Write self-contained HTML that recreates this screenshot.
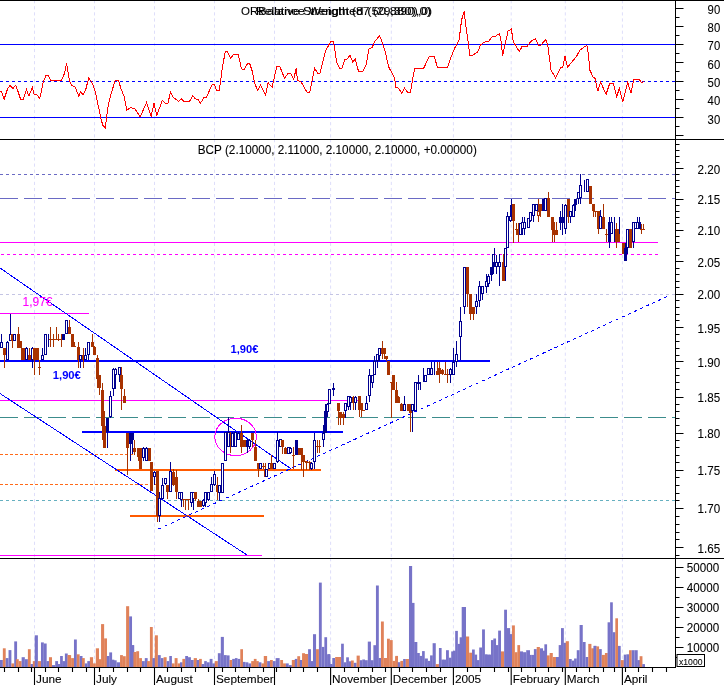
<!DOCTYPE html>
<html><head><meta charset="utf-8"><style>
html,body{margin:0;padding:0;background:#fff;}
svg{display:block;will-change:transform;}
</style></head><body>
<svg width="724" height="685" viewBox="0 0 724 685">
<rect width="724" height="685" fill="#fff"/>
<line x1="34.5" y1="1" x2="34.5" y2="139" stroke="#dedefa" stroke-width="1" stroke-dasharray="3.2,2.9" stroke-dashoffset="0.9"/>
<line x1="34.5" y1="140" x2="34.5" y2="558" stroke="#dedefa" stroke-width="1" stroke-dasharray="3.2,2.9" stroke-dashoffset="0.9"/>
<line x1="34.5" y1="559" x2="34.5" y2="667" stroke="#dedefa" stroke-width="1" stroke-dasharray="3.2,2.9" stroke-dashoffset="0.9"/>
<line x1="94.5" y1="1" x2="94.5" y2="139" stroke="#dedefa" stroke-width="1" stroke-dasharray="3.2,2.9" stroke-dashoffset="0.9"/>
<line x1="94.5" y1="140" x2="94.5" y2="558" stroke="#dedefa" stroke-width="1" stroke-dasharray="3.2,2.9" stroke-dashoffset="0.9"/>
<line x1="94.5" y1="559" x2="94.5" y2="667" stroke="#dedefa" stroke-width="1" stroke-dasharray="3.2,2.9" stroke-dashoffset="0.9"/>
<line x1="154.5" y1="1" x2="154.5" y2="139" stroke="#dedefa" stroke-width="1" stroke-dasharray="3.2,2.9" stroke-dashoffset="0.9"/>
<line x1="154.5" y1="140" x2="154.5" y2="558" stroke="#dedefa" stroke-width="1" stroke-dasharray="3.2,2.9" stroke-dashoffset="0.9"/>
<line x1="154.5" y1="559" x2="154.5" y2="667" stroke="#dedefa" stroke-width="1" stroke-dasharray="3.2,2.9" stroke-dashoffset="0.9"/>
<line x1="214.5" y1="1" x2="214.5" y2="139" stroke="#dedefa" stroke-width="1" stroke-dasharray="3.2,2.9" stroke-dashoffset="0.9"/>
<line x1="214.5" y1="140" x2="214.5" y2="558" stroke="#dedefa" stroke-width="1" stroke-dasharray="3.2,2.9" stroke-dashoffset="0.9"/>
<line x1="214.5" y1="559" x2="214.5" y2="667" stroke="#dedefa" stroke-width="1" stroke-dasharray="3.2,2.9" stroke-dashoffset="0.9"/>
<line x1="274.5" y1="1" x2="274.5" y2="139" stroke="#dedefa" stroke-width="1" stroke-dasharray="3.2,2.9" stroke-dashoffset="0.9"/>
<line x1="274.5" y1="140" x2="274.5" y2="558" stroke="#dedefa" stroke-width="1" stroke-dasharray="3.2,2.9" stroke-dashoffset="0.9"/>
<line x1="274.5" y1="559" x2="274.5" y2="667" stroke="#dedefa" stroke-width="1" stroke-dasharray="3.2,2.9" stroke-dashoffset="0.9"/>
<line x1="330.6" y1="1" x2="330.6" y2="139" stroke="#dedefa" stroke-width="1" stroke-dasharray="3.2,2.9" stroke-dashoffset="0.9"/>
<line x1="330.6" y1="140" x2="330.6" y2="558" stroke="#dedefa" stroke-width="1" stroke-dasharray="3.2,2.9" stroke-dashoffset="0.9"/>
<line x1="330.6" y1="559" x2="330.6" y2="667" stroke="#dedefa" stroke-width="1" stroke-dasharray="3.2,2.9" stroke-dashoffset="0.9"/>
<line x1="391.3" y1="1" x2="391.3" y2="139" stroke="#dedefa" stroke-width="1" stroke-dasharray="3.2,2.9" stroke-dashoffset="0.9"/>
<line x1="391.3" y1="140" x2="391.3" y2="558" stroke="#dedefa" stroke-width="1" stroke-dasharray="3.2,2.9" stroke-dashoffset="0.9"/>
<line x1="391.3" y1="559" x2="391.3" y2="667" stroke="#dedefa" stroke-width="1" stroke-dasharray="3.2,2.9" stroke-dashoffset="0.9"/>
<line x1="453.4" y1="1" x2="453.4" y2="139" stroke="#dedefa" stroke-width="1" stroke-dasharray="3.2,2.9" stroke-dashoffset="0.9"/>
<line x1="453.4" y1="140" x2="453.4" y2="558" stroke="#dedefa" stroke-width="1" stroke-dasharray="3.2,2.9" stroke-dashoffset="0.9"/>
<line x1="453.4" y1="559" x2="453.4" y2="667" stroke="#dedefa" stroke-width="1" stroke-dasharray="3.2,2.9" stroke-dashoffset="0.9"/>
<line x1="511.2" y1="1" x2="511.2" y2="139" stroke="#dedefa" stroke-width="1" stroke-dasharray="3.2,2.9" stroke-dashoffset="0.9"/>
<line x1="511.2" y1="140" x2="511.2" y2="558" stroke="#dedefa" stroke-width="1" stroke-dasharray="3.2,2.9" stroke-dashoffset="0.9"/>
<line x1="511.2" y1="559" x2="511.2" y2="667" stroke="#dedefa" stroke-width="1" stroke-dasharray="3.2,2.9" stroke-dashoffset="0.9"/>
<line x1="565.3" y1="1" x2="565.3" y2="139" stroke="#dedefa" stroke-width="1" stroke-dasharray="3.2,2.9" stroke-dashoffset="0.9"/>
<line x1="565.3" y1="140" x2="565.3" y2="558" stroke="#dedefa" stroke-width="1" stroke-dasharray="3.2,2.9" stroke-dashoffset="0.9"/>
<line x1="565.3" y1="559" x2="565.3" y2="667" stroke="#dedefa" stroke-width="1" stroke-dasharray="3.2,2.9" stroke-dashoffset="0.9"/>
<line x1="622.4" y1="1" x2="622.4" y2="139" stroke="#dedefa" stroke-width="1" stroke-dasharray="3.2,2.9" stroke-dashoffset="0.9"/>
<line x1="622.4" y1="140" x2="622.4" y2="558" stroke="#dedefa" stroke-width="1" stroke-dasharray="3.2,2.9" stroke-dashoffset="0.9"/>
<line x1="622.4" y1="559" x2="622.4" y2="667" stroke="#dedefa" stroke-width="1" stroke-dasharray="3.2,2.9" stroke-dashoffset="0.9"/>
<line x1="0" y1="44.5" x2="675.5" y2="44.5" stroke="#0000ff" stroke-width="1"/>
<line x1="0" y1="117.5" x2="675.5" y2="117.5" stroke="#0000ff" stroke-width="1"/>
<line x1="0" y1="81.5" x2="675.5" y2="81.5" stroke="#0000ff" stroke-width="1" stroke-dasharray="3,3"/>
<polyline points="0.0,91.1 1.7,91.8 4.1,99.4 7.5,89.0 9.9,85.3 12.9,88.5 15.7,85.3 17.4,89.8 20.7,99.4 23.2,99.4 26.5,89.8 29.0,96.1 32.3,87.3 34.0,94.0 36.5,94.4 39.8,98.4 43.4,81.5 46.1,75.4 48.4,75.4 50.6,80.4 61.3,80.4 64.6,73.2 66.6,63.3 69.6,81.5 72.1,85.7 75.4,87.3 78.7,96.1 80.9,91.5 82.9,95.1 85.9,89.0 88.7,77.9 92.8,84.0 95.3,91.5 100.8,118.0 102.8,125.4 105.3,127.9 107.7,108.0 110.7,94.8 115.2,80.7 118.6,80.7 120.8,88.2 124.1,96.4 126.9,110.0 130.7,107.7 134.9,108.9 140.2,116.7 146.5,102.7 151.1,116.3 154.0,103.4 156.8,115.5 162.2,100.6 165.6,103.4 168.0,103.1 170.5,91.8 173.0,97.3 178.8,101.4 181.3,98.9 183.8,101.4 189.6,101.4 192.6,95.6 195.4,98.9 197.9,99.4 200.4,103.4 203.7,97.8 206.5,97.3 212.0,84.8 214.5,84.8 216.4,90.1 219.4,90.1 222.5,66.4 225.3,51.8 227.4,51.5 230.7,58.5 233.2,54.5 238.2,54.5 241.5,68.9 244.0,69.4 247.8,63.4 249.8,63.9 252.3,71.4 254.8,83.8 257.8,90.4 260.6,85.0 265.6,95.4 268.0,82.7 272.2,87.1 276.7,66.4 279.6,66.1 284.6,78.3 287.9,73.4 290.9,73.9 293.7,79.3 296.2,68.4 297.5,80.0 301.2,82.2 307.0,92.1 309.8,92.1 314.5,68.1 318.1,73.9 319.8,73.9 325.7,50.7 330.7,41.5 333.3,41.5 334.6,48.2 336.6,62.3 339.6,68.4 341.9,68.4 344.9,59.8 347.4,59.0 349.9,55.3 352.9,62.3 355.2,58.5 358.5,71.4 362.8,71.4 366.1,64.8 369.0,49.0 372.3,47.3 374.8,41.2 379.7,35.7 384.7,49.8 388.8,67.2 394.6,78.0 396.0,87.6 398.8,88.3 401.6,93.3 404.6,88.3 407.6,92.1 410.4,92.1 414.5,68.9 417.8,68.4 423.6,68.4 429.5,56.1 434.1,56.1 437.4,67.2 447.5,67.2 451.6,55.6 454.9,47.8 459.1,39.8 461.6,19.9 464.1,11.3 466.2,28.2 469.9,55.1 472.3,55.6 477.3,52.2 479.0,48.9 480.6,44.8 485.6,41.5 488.9,41.1 492.2,36.5 495.6,36.2 499.4,33.5 501.0,41.1 502.7,55.6 504.3,47.8 508.0,31.2 511.3,29.0 513.3,41.5 519.3,51.7 522.1,46.4 527.5,46.1 530.4,41.8 535.3,38.6 538.7,45.6 540.8,45.1 545.8,39.5 547.8,45.6 551.1,70.5 555.7,77.9 560.7,67.2 562.7,67.2 565.0,56.2 567.5,67.3 571.6,62.3 576.6,56.2 579.9,50.2 582.4,48.2 586.9,45.2 588.5,54.9 589.8,70.1 593.2,77.2 595.1,78.4 597.8,91.3 600.6,82.2 606.1,94.3 609.7,83.4 613.4,83.4 616.7,97.1 619.3,88.0 622.7,102.1 627.6,82.2 630.9,93.0 633.8,79.7 639.2,79.4 641.5,82.7 643.7,81.7" fill="none" stroke="#ff0000" stroke-width="1" stroke-linejoin="miter" shape-rendering="crispEdges"/>
<line x1="0" y1="174.5" x2="675.5" y2="174.5" stroke="#6a6ac4" stroke-width="1" stroke-dasharray="3,3"/>
<line x1="0" y1="198.5" x2="675.5" y2="198.5" stroke="#6a6ac4" stroke-width="1" stroke-dasharray="18,6"/>
<line x1="0" y1="242.5" x2="658" y2="242.5" stroke="#ff00ff" stroke-width="1"/>
<line x1="1" y1="254.5" x2="658" y2="254.5" stroke="#ff00ff" stroke-width="1" stroke-dasharray="3,3"/>
<line x1="0" y1="294.5" x2="675.5" y2="294.5" stroke="#c4c4e4" stroke-width="1" stroke-dasharray="3,3"/>
<line x1="0" y1="313.5" x2="89" y2="313.5" stroke="#ff00ff" stroke-width="1"/>
<line x1="0" y1="361" x2="490" y2="361" stroke="#0000ff" stroke-width="2"/>
<line x1="0" y1="400.5" x2="358" y2="400.5" stroke="#ff00ff" stroke-width="1"/>
<line x1="0" y1="417.5" x2="675.5" y2="417.5" stroke="#3c8c8c" stroke-width="1" stroke-dasharray="18,6"/>
<line x1="82" y1="432" x2="343" y2="432" stroke="#0000ff" stroke-width="2"/>
<line x1="0" y1="454.5" x2="135" y2="454.5" stroke="#ff6a1a" stroke-width="1" stroke-dasharray="3,2"/>
<line x1="115" y1="470" x2="321" y2="470" stroke="#ff5a00" stroke-width="2"/>
<line x1="0" y1="484.5" x2="158" y2="484.5" stroke="#ff6a1a" stroke-width="1" stroke-dasharray="3,2"/>
<line x1="0" y1="500.5" x2="675.5" y2="500.5" stroke="#66b0c0" stroke-width="1" stroke-dasharray="3,3"/>
<line x1="130" y1="516" x2="264" y2="516" stroke="#ff5a00" stroke-width="2"/>
<line x1="0" y1="555.5" x2="262" y2="555.5" stroke="#ff00ff" stroke-width="1"/>
<line x1="0" y1="268.0" x2="291" y2="468.8" stroke="#0000ff" stroke-width="1" shape-rendering="crispEdges"/>
<line x1="0" y1="393.5" x2="247" y2="555.0" stroke="#0000ff" stroke-width="1" shape-rendering="crispEdges"/>
<line x1="156.8" y1="529.8" x2="669.8" y2="295.3" stroke="#0000ff" stroke-width="1" stroke-dasharray="3.3,3.4" stroke-dashoffset="-1.9" shape-rendering="crispEdges"/>
<ellipse cx="235.6" cy="436.9" rx="20.8" ry="18.7" fill="none" stroke="#ff00ff" stroke-width="1" shape-rendering="crispEdges"/>
<rect x="1" y="334" width="1" height="14" fill="#000090"/>
<rect x="0.5" y="342.5" width="2" height="5" fill="#fff" stroke="#000090" stroke-width="1"/>
<rect x="4" y="348" width="1" height="20" fill="#a83200"/>
<rect x="3" y="348" width="3" height="7" fill="#a83200"/>
<rect x="7" y="341" width="1" height="19" fill="#000090"/>
<rect x="6.5" y="342.5" width="2" height="17" fill="#fff" stroke="#000090" stroke-width="1"/>
<rect x="10" y="314" width="1" height="27" fill="#000090"/>
<rect x="9.5" y="334.5" width="2" height="6" fill="#fff" stroke="#000090" stroke-width="1"/>
<rect x="12" y="334" width="1" height="14" fill="#a83200"/>
<rect x="11" y="334" width="3" height="7" fill="#a83200"/>
<rect x="14" y="334" width="1" height="7" fill="#000090"/>
<rect x="13.5" y="334.5" width="2" height="6" fill="#fff" stroke="#000090" stroke-width="1"/>
<rect x="18" y="327" width="1" height="21" fill="#a83200"/>
<rect x="17" y="334" width="3" height="14" fill="#a83200"/>
<rect x="20" y="341" width="1" height="7" fill="#a83200"/>
<rect x="19" y="341" width="3" height="7" fill="#a83200"/>
<rect x="22" y="348" width="1" height="12" fill="#a83200"/>
<rect x="21" y="348" width="3" height="12" fill="#a83200"/>
<rect x="24" y="348" width="1" height="12" fill="#a83200"/>
<rect x="23" y="348" width="3" height="12" fill="#a83200"/>
<rect x="26" y="347" width="1" height="13" fill="#000090"/>
<rect x="25.5" y="348.5" width="2" height="11" fill="#fff" stroke="#000090" stroke-width="1"/>
<rect x="29" y="348" width="1" height="12" fill="#a83200"/>
<rect x="28" y="355" width="3" height="5" fill="#a83200"/>
<rect x="32" y="347" width="1" height="21" fill="#000090"/>
<rect x="31.5" y="348.5" width="2" height="11" fill="#fff" stroke="#000090" stroke-width="1"/>
<rect x="34" y="348" width="1" height="27" fill="#a83200"/>
<rect x="33" y="348" width="3" height="12" fill="#a83200"/>
<rect x="37" y="348" width="1" height="12" fill="#a83200"/>
<rect x="36" y="348" width="3" height="12" fill="#a83200"/>
<rect x="39" y="360" width="1" height="15" fill="#a83200"/>
<rect x="38" y="367" width="3" height="1" fill="#a83200"/>
<rect x="42" y="348" width="1" height="12" fill="#000090"/>
<rect x="41.5" y="355.5" width="2" height="4" fill="#fff" stroke="#000090" stroke-width="1"/>
<rect x="45" y="334" width="1" height="21" fill="#000090"/>
<rect x="44.5" y="334.5" width="2" height="20" fill="#fff" stroke="#000090" stroke-width="1"/>
<rect x="48" y="334" width="1" height="13" fill="#000090"/>
<rect x="47.5" y="339.5" width="2" height="0" fill="#fff" stroke="#000090" stroke-width="1"/>
<rect x="50" y="327" width="1" height="20" fill="#a83200"/>
<rect x="49" y="339" width="3" height="1" fill="#a83200"/>
<rect x="53" y="334" width="1" height="13" fill="#a83200"/>
<rect x="52" y="339" width="3" height="1" fill="#a83200"/>
<rect x="56" y="327" width="1" height="13" fill="#a83200"/>
<rect x="55" y="339" width="3" height="1" fill="#a83200"/>
<rect x="58" y="334" width="1" height="7" fill="#a83200"/>
<rect x="57" y="339" width="3" height="1" fill="#a83200"/>
<rect x="61" y="334" width="1" height="13" fill="#a83200"/>
<rect x="60" y="339" width="3" height="1" fill="#a83200"/>
<rect x="63" y="334" width="1" height="6" fill="#000090"/>
<rect x="62" y="334" width="3" height="6" fill="#000090"/>
<rect x="66" y="320" width="1" height="14" fill="#000090"/>
<rect x="65.5" y="320.5" width="2" height="13" fill="#fff" stroke="#000090" stroke-width="1"/>
<rect x="69" y="320" width="1" height="14" fill="#a83200"/>
<rect x="68" y="327" width="3" height="7" fill="#a83200"/>
<rect x="72" y="334" width="1" height="13" fill="#a83200"/>
<rect x="71" y="334" width="3" height="13" fill="#a83200"/>
<rect x="74" y="342" width="1" height="5" fill="#a83200"/>
<rect x="73" y="346" width="3" height="1" fill="#a83200"/>
<rect x="78" y="342" width="1" height="26" fill="#a83200"/>
<rect x="77" y="347" width="3" height="13" fill="#a83200"/>
<rect x="80" y="355" width="1" height="13" fill="#000090"/>
<rect x="79.5" y="355.5" width="2" height="4" fill="#fff" stroke="#000090" stroke-width="1"/>
<rect x="83" y="348" width="1" height="20" fill="#a83200"/>
<rect x="82" y="355" width="3" height="5" fill="#a83200"/>
<rect x="85" y="348" width="1" height="12" fill="#000090"/>
<rect x="84.5" y="355.5" width="2" height="4" fill="#fff" stroke="#000090" stroke-width="1"/>
<rect x="88" y="342" width="1" height="18" fill="#000090"/>
<rect x="87.5" y="342.5" width="2" height="12" fill="#fff" stroke="#000090" stroke-width="1"/>
<rect x="92" y="334" width="1" height="13" fill="#a83200"/>
<rect x="91" y="342" width="3" height="5" fill="#a83200"/>
<rect x="94" y="346" width="1" height="9" fill="#a83200"/>
<rect x="93" y="347" width="3" height="8" fill="#a83200"/>
<rect x="97" y="355" width="1" height="33" fill="#a83200"/>
<rect x="96" y="358" width="3" height="21" fill="#a83200"/>
<rect x="99" y="375" width="1" height="20" fill="#a83200"/>
<rect x="98" y="375" width="3" height="13" fill="#a83200"/>
<rect x="102" y="383" width="1" height="57" fill="#a83200"/>
<rect x="101" y="390" width="3" height="36" fill="#a83200"/>
<rect x="104" y="411" width="1" height="37" fill="#a83200"/>
<rect x="103" y="426" width="3" height="22" fill="#a83200"/>
<rect x="107" y="418" width="1" height="30" fill="#000090"/>
<rect x="106" y="418" width="3" height="14" fill="#000090"/>
<rect x="110" y="391" width="1" height="27" fill="#000090"/>
<rect x="109.5" y="396.5" width="2" height="20" fill="#fff" stroke="#000090" stroke-width="1"/>
<rect x="113" y="368" width="1" height="28" fill="#000090"/>
<rect x="112.5" y="369.5" width="2" height="19" fill="#fff" stroke="#000090" stroke-width="1"/>
<rect x="115" y="368" width="1" height="21" fill="#000090"/>
<rect x="114.5" y="369.5" width="2" height="5" fill="#fff" stroke="#000090" stroke-width="1"/>
<rect x="119" y="367" width="1" height="15" fill="#000090"/>
<rect x="118.5" y="367.5" width="2" height="7" fill="#fff" stroke="#000090" stroke-width="1"/>
<rect x="121" y="367" width="1" height="43" fill="#a83200"/>
<rect x="120" y="375" width="3" height="14" fill="#a83200"/>
<rect x="124" y="389" width="1" height="14" fill="#a83200"/>
<rect x="123" y="396" width="3" height="7" fill="#a83200"/>
<rect x="127" y="433" width="1" height="42" fill="#a83200"/>
<rect x="126" y="433" width="3" height="15" fill="#a83200"/>
<rect x="130" y="433" width="1" height="28" fill="#000090"/>
<rect x="129" y="433" width="3" height="11" fill="#000090"/>
<rect x="132" y="433" width="1" height="21" fill="#000090"/>
<rect x="131" y="433" width="3" height="7" fill="#000090"/>
<rect x="134" y="440" width="1" height="15" fill="#a83200"/>
<rect x="133" y="448" width="3" height="4" fill="#a83200"/>
<rect x="138" y="448" width="1" height="13" fill="#a83200"/>
<rect x="137" y="448" width="3" height="9" fill="#a83200"/>
<rect x="140" y="448" width="1" height="21" fill="#a83200"/>
<rect x="139" y="448" width="3" height="21" fill="#a83200"/>
<rect x="143" y="447" width="1" height="14" fill="#000090"/>
<rect x="142.5" y="448.5" width="2" height="9" fill="#fff" stroke="#000090" stroke-width="1"/>
<rect x="146" y="447" width="1" height="14" fill="#000090"/>
<rect x="145.5" y="448.5" width="2" height="12" fill="#fff" stroke="#000090" stroke-width="1"/>
<rect x="149" y="448" width="1" height="13" fill="#a83200"/>
<rect x="148" y="448" width="3" height="13" fill="#a83200"/>
<rect x="151" y="462" width="1" height="29" fill="#a83200"/>
<rect x="150" y="462" width="3" height="29" fill="#a83200"/>
<rect x="154" y="471" width="1" height="14" fill="#000090"/>
<rect x="153.5" y="472.5" width="2" height="4" fill="#fff" stroke="#000090" stroke-width="1"/>
<rect x="157" y="471" width="1" height="51" fill="#a83200"/>
<rect x="156" y="471" width="3" height="45" fill="#a83200"/>
<rect x="159" y="492" width="1" height="30" fill="#000090"/>
<rect x="158.5" y="498.5" width="2" height="17" fill="#fff" stroke="#000090" stroke-width="1"/>
<rect x="162" y="478" width="1" height="21" fill="#000090"/>
<rect x="161.5" y="485.5" width="2" height="13" fill="#fff" stroke="#000090" stroke-width="1"/>
<rect x="165" y="478" width="1" height="7" fill="#000090"/>
<rect x="164.5" y="478.5" width="2" height="5" fill="#fff" stroke="#000090" stroke-width="1"/>
<rect x="167" y="485" width="1" height="14" fill="#a83200"/>
<rect x="166" y="485" width="3" height="7" fill="#a83200"/>
<rect x="170" y="462" width="1" height="30" fill="#000090"/>
<rect x="169.5" y="471.5" width="2" height="20" fill="#fff" stroke="#000090" stroke-width="1"/>
<rect x="173" y="469" width="1" height="17" fill="#a83200"/>
<rect x="172" y="472" width="3" height="13" fill="#a83200"/>
<rect x="176" y="470" width="1" height="29" fill="#a83200"/>
<rect x="175" y="477" width="3" height="15" fill="#a83200"/>
<rect x="179" y="492" width="1" height="7" fill="#000090"/>
<rect x="178.5" y="492.5" width="2" height="6" fill="#fff" stroke="#000090" stroke-width="1"/>
<rect x="181" y="492" width="1" height="15" fill="#000090"/>
<rect x="180.5" y="492.5" width="2" height="7" fill="#fff" stroke="#000090" stroke-width="1"/>
<rect x="183" y="499" width="1" height="8" fill="#a83200"/>
<rect x="182" y="499" width="3" height="1" fill="#a83200"/>
<rect x="185" y="499" width="1" height="11" fill="#a83200"/>
<rect x="184" y="499" width="3" height="1" fill="#a83200"/>
<rect x="188" y="499" width="1" height="11" fill="#a83200"/>
<rect x="187" y="499" width="3" height="1" fill="#a83200"/>
<rect x="191" y="492" width="1" height="15" fill="#000090"/>
<rect x="190.5" y="492.5" width="2" height="10" fill="#fff" stroke="#000090" stroke-width="1"/>
<rect x="193" y="492" width="1" height="18" fill="#000090"/>
<rect x="192.5" y="492.5" width="2" height="6" fill="#fff" stroke="#000090" stroke-width="1"/>
<rect x="195" y="492" width="1" height="9" fill="#a83200"/>
<rect x="194" y="492" width="3" height="7" fill="#a83200"/>
<rect x="198" y="499" width="1" height="8" fill="#a83200"/>
<rect x="197" y="501" width="3" height="6" fill="#a83200"/>
<rect x="200" y="501" width="1" height="6" fill="#a83200"/>
<rect x="199" y="501" width="3" height="6" fill="#a83200"/>
<rect x="203" y="499" width="1" height="8" fill="#000090"/>
<rect x="202.5" y="500.5" width="2" height="5" fill="#fff" stroke="#000090" stroke-width="1"/>
<rect x="205" y="492" width="1" height="15" fill="#000090"/>
<rect x="204.5" y="492.5" width="2" height="10" fill="#fff" stroke="#000090" stroke-width="1"/>
<rect x="208" y="492" width="1" height="9" fill="#000090"/>
<rect x="207.5" y="492.5" width="2" height="7" fill="#fff" stroke="#000090" stroke-width="1"/>
<rect x="211" y="477" width="1" height="15" fill="#000090"/>
<rect x="210.5" y="484.5" width="2" height="7" fill="#fff" stroke="#000090" stroke-width="1"/>
<rect x="214" y="471" width="1" height="15" fill="#000090"/>
<rect x="213.5" y="474.5" width="2" height="10" fill="#fff" stroke="#000090" stroke-width="1"/>
<rect x="217" y="477" width="1" height="23" fill="#a83200"/>
<rect x="216" y="485" width="3" height="7" fill="#a83200"/>
<rect x="219" y="485" width="1" height="16" fill="#000090"/>
<rect x="218.5" y="485.5" width="2" height="7" fill="#fff" stroke="#000090" stroke-width="1"/>
<rect x="222" y="463" width="1" height="30" fill="#000090"/>
<rect x="221.5" y="463.5" width="2" height="29" fill="#fff" stroke="#000090" stroke-width="1"/>
<rect x="225" y="432" width="1" height="29" fill="#000090"/>
<rect x="224.5" y="432.5" width="2" height="28" fill="#fff" stroke="#000090" stroke-width="1"/>
<rect x="228" y="417" width="1" height="30" fill="#000090"/>
<rect x="227.5" y="432.5" width="2" height="14" fill="#fff" stroke="#000090" stroke-width="1"/>
<rect x="230" y="432" width="1" height="21" fill="#a83200"/>
<rect x="229" y="433" width="3" height="1" fill="#a83200"/>
<rect x="232" y="432" width="1" height="15" fill="#000090"/>
<rect x="231.5" y="433.5" width="2" height="13" fill="#fff" stroke="#000090" stroke-width="1"/>
<rect x="235" y="432" width="1" height="15" fill="#000090"/>
<rect x="234.5" y="432.5" width="2" height="14" fill="#fff" stroke="#000090" stroke-width="1"/>
<rect x="238" y="432" width="1" height="8" fill="#000090"/>
<rect x="237.5" y="433.5" width="2" height="6" fill="#fff" stroke="#000090" stroke-width="1"/>
<rect x="241" y="425" width="1" height="28" fill="#a83200"/>
<rect x="240" y="433" width="3" height="14" fill="#a83200"/>
<rect x="244" y="440" width="1" height="7" fill="#a83200"/>
<rect x="243" y="440" width="3" height="7" fill="#a83200"/>
<rect x="247" y="439" width="1" height="14" fill="#000090"/>
<rect x="246" y="440" width="3" height="7" fill="#000090"/>
<rect x="249" y="439" width="1" height="10" fill="#000090"/>
<rect x="248.5" y="440.5" width="2" height="6" fill="#fff" stroke="#000090" stroke-width="1"/>
<rect x="252" y="433" width="1" height="14" fill="#a83200"/>
<rect x="251" y="433" width="3" height="7" fill="#a83200"/>
<rect x="255" y="440" width="1" height="21" fill="#a83200"/>
<rect x="254" y="447" width="3" height="14" fill="#a83200"/>
<rect x="258" y="463" width="1" height="14" fill="#a83200"/>
<rect x="257" y="463" width="3" height="6" fill="#a83200"/>
<rect x="260" y="463" width="1" height="6" fill="#000090"/>
<rect x="259.5" y="463.5" width="2" height="5" fill="#fff" stroke="#000090" stroke-width="1"/>
<rect x="263" y="463" width="1" height="6" fill="#a83200"/>
<rect x="262" y="466" width="3" height="1" fill="#a83200"/>
<rect x="265" y="463" width="1" height="14" fill="#a83200"/>
<rect x="264" y="469" width="3" height="8" fill="#a83200"/>
<rect x="266" y="469" width="1" height="8" fill="#000090"/>
<rect x="265.5" y="469.5" width="2" height="7" fill="#fff" stroke="#000090" stroke-width="1"/>
<rect x="269" y="463" width="1" height="6" fill="#000090"/>
<rect x="268.5" y="463.5" width="2" height="5" fill="#fff" stroke="#000090" stroke-width="1"/>
<rect x="271" y="455" width="1" height="14" fill="#a83200"/>
<rect x="270" y="463" width="3" height="6" fill="#a83200"/>
<rect x="274" y="463" width="1" height="6" fill="#000090"/>
<rect x="273.5" y="463.5" width="2" height="5" fill="#fff" stroke="#000090" stroke-width="1"/>
<rect x="277" y="432" width="1" height="31" fill="#000090"/>
<rect x="276.5" y="440.5" width="2" height="21" fill="#fff" stroke="#000090" stroke-width="1"/>
<rect x="280" y="439" width="1" height="8" fill="#000090"/>
<rect x="279.5" y="439.5" width="2" height="7" fill="#fff" stroke="#000090" stroke-width="1"/>
<rect x="282" y="440" width="1" height="14" fill="#a83200"/>
<rect x="281" y="440" width="3" height="7" fill="#a83200"/>
<rect x="285" y="447" width="1" height="7" fill="#a83200"/>
<rect x="284" y="448" width="3" height="6" fill="#a83200"/>
<rect x="288" y="447" width="1" height="7" fill="#000090"/>
<rect x="287.5" y="447.5" width="2" height="6" fill="#fff" stroke="#000090" stroke-width="1"/>
<rect x="290" y="447" width="1" height="7" fill="#000090"/>
<rect x="289.5" y="448.5" width="2" height="4" fill="#fff" stroke="#000090" stroke-width="1"/>
<rect x="293" y="447" width="1" height="22" fill="#a83200"/>
<rect x="292" y="455" width="3" height="1" fill="#a83200"/>
<rect x="296" y="440" width="1" height="15" fill="#000090"/>
<rect x="295" y="440" width="3" height="15" fill="#000090"/>
<rect x="299" y="448" width="1" height="7" fill="#a83200"/>
<rect x="298" y="448" width="3" height="7" fill="#a83200"/>
<rect x="301" y="448" width="1" height="22" fill="#a83200"/>
<rect x="300" y="448" width="3" height="7" fill="#a83200"/>
<rect x="303" y="455" width="1" height="22" fill="#a83200"/>
<rect x="302" y="455" width="3" height="7" fill="#a83200"/>
<rect x="306" y="461" width="1" height="9" fill="#a83200"/>
<rect x="305" y="461" width="3" height="2" fill="#a83200"/>
<rect x="309" y="461" width="1" height="9" fill="#a83200"/>
<rect x="308" y="462" width="3" height="1" fill="#a83200"/>
<rect x="311" y="462" width="1" height="8" fill="#000090"/>
<rect x="310.5" y="463.5" width="2" height="5" fill="#fff" stroke="#000090" stroke-width="1"/>
<rect x="314" y="433" width="1" height="36" fill="#000090"/>
<rect x="313.5" y="440.5" width="2" height="21" fill="#fff" stroke="#000090" stroke-width="1"/>
<rect x="317" y="440" width="1" height="13" fill="#a83200"/>
<rect x="316" y="446" width="3" height="1" fill="#a83200"/>
<rect x="319" y="440" width="1" height="13" fill="#a83200"/>
<rect x="318" y="446" width="3" height="1" fill="#a83200"/>
<rect x="323" y="425" width="1" height="22" fill="#000090"/>
<rect x="322.5" y="433.5" width="2" height="6" fill="#fff" stroke="#000090" stroke-width="1"/>
<rect x="325" y="404" width="1" height="29" fill="#000090"/>
<rect x="324" y="411" width="3" height="22" fill="#000090"/>
<rect x="327" y="403" width="1" height="14" fill="#000090"/>
<rect x="326.5" y="404.5" width="2" height="7" fill="#fff" stroke="#000090" stroke-width="1"/>
<rect x="329" y="389" width="1" height="15" fill="#000090"/>
<rect x="328.5" y="389.5" width="2" height="14" fill="#fff" stroke="#000090" stroke-width="1"/>
<rect x="333" y="383" width="1" height="13" fill="#000090"/>
<rect x="332.5" y="388.5" width="2" height="1" fill="#fff" stroke="#000090" stroke-width="1"/>
<rect x="338" y="403" width="1" height="22" fill="#a83200"/>
<rect x="337" y="403" width="3" height="8" fill="#a83200"/>
<rect x="340" y="412" width="1" height="13" fill="#a83200"/>
<rect x="339" y="412" width="3" height="6" fill="#a83200"/>
<rect x="343" y="412" width="1" height="13" fill="#a83200"/>
<rect x="342" y="414" width="3" height="4" fill="#a83200"/>
<rect x="345" y="403" width="1" height="15" fill="#000090"/>
<rect x="344.5" y="403.5" width="2" height="7" fill="#fff" stroke="#000090" stroke-width="1"/>
<rect x="348" y="396" width="1" height="14" fill="#000090"/>
<rect x="347.5" y="396.5" width="2" height="10" fill="#fff" stroke="#000090" stroke-width="1"/>
<rect x="350" y="396" width="1" height="14" fill="#000090"/>
<rect x="349.5" y="397.5" width="2" height="5" fill="#fff" stroke="#000090" stroke-width="1"/>
<rect x="353" y="396" width="1" height="14" fill="#a83200"/>
<rect x="352" y="397" width="3" height="6" fill="#a83200"/>
<rect x="355" y="396" width="1" height="14" fill="#000090"/>
<rect x="354.5" y="397.5" width="2" height="5" fill="#fff" stroke="#000090" stroke-width="1"/>
<rect x="359" y="396" width="1" height="21" fill="#a83200"/>
<rect x="358" y="396" width="3" height="14" fill="#a83200"/>
<rect x="361" y="403" width="1" height="14" fill="#a83200"/>
<rect x="360" y="403" width="3" height="7" fill="#a83200"/>
<rect x="363" y="410" width="1" height="1" fill="#a83200"/>
<rect x="362" y="410" width="3" height="1" fill="#a83200"/>
<rect x="366" y="396" width="1" height="14" fill="#000090"/>
<rect x="365.5" y="403.5" width="2" height="6" fill="#fff" stroke="#000090" stroke-width="1"/>
<rect x="369" y="369" width="1" height="33" fill="#000090"/>
<rect x="368.5" y="375.5" width="2" height="20" fill="#fff" stroke="#000090" stroke-width="1"/>
<rect x="372" y="375" width="1" height="13" fill="#000090"/>
<rect x="371.5" y="375.5" width="2" height="7" fill="#fff" stroke="#000090" stroke-width="1"/>
<rect x="374" y="356" width="1" height="19" fill="#000090"/>
<rect x="373.5" y="361.5" width="2" height="13" fill="#fff" stroke="#000090" stroke-width="1"/>
<rect x="377" y="354" width="1" height="14" fill="#000090"/>
<rect x="376.5" y="354.5" width="2" height="6" fill="#fff" stroke="#000090" stroke-width="1"/>
<rect x="379" y="348" width="1" height="13" fill="#000090"/>
<rect x="378.5" y="348.5" width="2" height="7" fill="#fff" stroke="#000090" stroke-width="1"/>
<rect x="382" y="341" width="1" height="18" fill="#a83200"/>
<rect x="381" y="348" width="3" height="6" fill="#a83200"/>
<rect x="384" y="348" width="1" height="11" fill="#a83200"/>
<rect x="383" y="348" width="3" height="6" fill="#a83200"/>
<rect x="386" y="356" width="1" height="5" fill="#a83200"/>
<rect x="385" y="356" width="3" height="3" fill="#a83200"/>
<rect x="388" y="361" width="1" height="14" fill="#a83200"/>
<rect x="387" y="361" width="3" height="14" fill="#a83200"/>
<rect x="391" y="382" width="1" height="36" fill="#a83200"/>
<rect x="390" y="382" width="3" height="1" fill="#a83200"/>
<rect x="393" y="375" width="1" height="15" fill="#a83200"/>
<rect x="392" y="375" width="3" height="15" fill="#a83200"/>
<rect x="396" y="382" width="1" height="21" fill="#a83200"/>
<rect x="395" y="390" width="3" height="13" fill="#a83200"/>
<rect x="398" y="396" width="1" height="7" fill="#a83200"/>
<rect x="397" y="397" width="3" height="6" fill="#a83200"/>
<rect x="401" y="403" width="1" height="8" fill="#a83200"/>
<rect x="400" y="404" width="3" height="7" fill="#a83200"/>
<rect x="404" y="396" width="1" height="15" fill="#000090"/>
<rect x="403.5" y="404.5" width="2" height="6" fill="#fff" stroke="#000090" stroke-width="1"/>
<rect x="408" y="404" width="1" height="7" fill="#a83200"/>
<rect x="407" y="404" width="3" height="7" fill="#a83200"/>
<rect x="410" y="404" width="1" height="28" fill="#a83200"/>
<rect x="409" y="404" width="3" height="9" fill="#a83200"/>
<rect x="412" y="404" width="1" height="28" fill="#000090"/>
<rect x="411.5" y="404.5" width="2" height="6" fill="#fff" stroke="#000090" stroke-width="1"/>
<rect x="415" y="382" width="1" height="29" fill="#000090"/>
<rect x="414.5" y="382.5" width="2" height="28" fill="#fff" stroke="#000090" stroke-width="1"/>
<rect x="418" y="375" width="1" height="15" fill="#000090"/>
<rect x="417.5" y="382.5" width="2" height="1" fill="#fff" stroke="#000090" stroke-width="1"/>
<rect x="420" y="382" width="1" height="8" fill="#000090"/>
<rect x="419.5" y="383.5" width="2" height="0" fill="#fff" stroke="#000090" stroke-width="1"/>
<rect x="423" y="368" width="1" height="14" fill="#000090"/>
<rect x="422.5" y="382.5" width="2" height="0" fill="#fff" stroke="#000090" stroke-width="1"/>
<rect x="425" y="375" width="1" height="7" fill="#000090"/>
<rect x="424.5" y="375.5" width="2" height="6" fill="#fff" stroke="#000090" stroke-width="1"/>
<rect x="428" y="368" width="1" height="7" fill="#000090"/>
<rect x="427.5" y="368.5" width="2" height="6" fill="#fff" stroke="#000090" stroke-width="1"/>
<rect x="431" y="362" width="1" height="13" fill="#000090"/>
<rect x="430.5" y="368.5" width="2" height="6" fill="#fff" stroke="#000090" stroke-width="1"/>
<rect x="434" y="362" width="1" height="13" fill="#000090"/>
<rect x="433.5" y="367.5" width="2" height="0" fill="#fff" stroke="#000090" stroke-width="1"/>
<rect x="437" y="362" width="1" height="13" fill="#a83200"/>
<rect x="436" y="371" width="3" height="4" fill="#a83200"/>
<rect x="439" y="362" width="1" height="21" fill="#a83200"/>
<rect x="438" y="368" width="3" height="6" fill="#a83200"/>
<rect x="442" y="369" width="1" height="6" fill="#a83200"/>
<rect x="441" y="370" width="3" height="4" fill="#a83200"/>
<rect x="445" y="362" width="1" height="13" fill="#a83200"/>
<rect x="444" y="374" width="3" height="1" fill="#a83200"/>
<rect x="447" y="369" width="1" height="14" fill="#a83200"/>
<rect x="446" y="374" width="3" height="1" fill="#a83200"/>
<rect x="450" y="368" width="1" height="15" fill="#000090"/>
<rect x="449.5" y="369.5" width="2" height="5" fill="#fff" stroke="#000090" stroke-width="1"/>
<rect x="453" y="348" width="1" height="27" fill="#000090"/>
<rect x="452.5" y="362.5" width="2" height="12" fill="#fff" stroke="#000090" stroke-width="1"/>
<rect x="456" y="341" width="1" height="26" fill="#000090"/>
<rect x="455.5" y="354.5" width="2" height="7" fill="#fff" stroke="#000090" stroke-width="1"/>
<rect x="460" y="307" width="1" height="53" fill="#000090"/>
<rect x="459.5" y="321.5" width="2" height="15" fill="#fff" stroke="#000090" stroke-width="1"/>
<rect x="464" y="267" width="1" height="47" fill="#000090"/>
<rect x="463.5" y="267.5" width="2" height="39" fill="#fff" stroke="#000090" stroke-width="1"/>
<rect x="467" y="267" width="1" height="40" fill="#a83200"/>
<rect x="466" y="267" width="3" height="27" fill="#a83200"/>
<rect x="470" y="294" width="1" height="26" fill="#a83200"/>
<rect x="469" y="294" width="3" height="20" fill="#a83200"/>
<rect x="473" y="307" width="1" height="13" fill="#a83200"/>
<rect x="472" y="307" width="3" height="7" fill="#a83200"/>
<rect x="476" y="294" width="1" height="20" fill="#000090"/>
<rect x="475.5" y="301.5" width="2" height="5" fill="#fff" stroke="#000090" stroke-width="1"/>
<rect x="479" y="281" width="1" height="26" fill="#000090"/>
<rect x="478.5" y="286.5" width="2" height="14" fill="#fff" stroke="#000090" stroke-width="1"/>
<rect x="482" y="286" width="1" height="14" fill="#000090"/>
<rect x="481.5" y="286.5" width="2" height="7" fill="#fff" stroke="#000090" stroke-width="1"/>
<rect x="486" y="274" width="1" height="19" fill="#000090"/>
<rect x="485.5" y="281.5" width="2" height="5" fill="#fff" stroke="#000090" stroke-width="1"/>
<rect x="488" y="274" width="1" height="13" fill="#000090"/>
<rect x="487.5" y="276.5" width="2" height="7" fill="#fff" stroke="#000090" stroke-width="1"/>
<rect x="491" y="267" width="1" height="14" fill="#000090"/>
<rect x="490" y="267" width="3" height="8" fill="#000090"/>
<rect x="493" y="254" width="1" height="20" fill="#000090"/>
<rect x="492.5" y="254.5" width="2" height="12" fill="#fff" stroke="#000090" stroke-width="1"/>
<rect x="494" y="248" width="1" height="19" fill="#000090"/>
<rect x="493" y="262" width="3" height="4" fill="#000090"/>
<rect x="496" y="255" width="1" height="19" fill="#000090"/>
<rect x="495.5" y="262.5" width="2" height="4" fill="#fff" stroke="#000090" stroke-width="1"/>
<rect x="499" y="254" width="1" height="32" fill="#000090"/>
<rect x="498.5" y="262.5" width="2" height="4" fill="#fff" stroke="#000090" stroke-width="1"/>
<rect x="503" y="254" width="1" height="27" fill="#a83200"/>
<rect x="502" y="262" width="3" height="19" fill="#a83200"/>
<rect x="505" y="248" width="1" height="33" fill="#000090"/>
<rect x="504.5" y="248.5" width="2" height="18" fill="#fff" stroke="#000090" stroke-width="1"/>
<rect x="507" y="212" width="1" height="36" fill="#000090"/>
<rect x="506.5" y="216.5" width="2" height="31" fill="#fff" stroke="#000090" stroke-width="1"/>
<rect x="510" y="211" width="1" height="11" fill="#000090"/>
<rect x="509.5" y="216.5" width="2" height="4" fill="#fff" stroke="#000090" stroke-width="1"/>
<rect x="511" y="199" width="1" height="17" fill="#000090"/>
<rect x="510" y="205" width="3" height="11" fill="#000090"/>
<rect x="513" y="204" width="1" height="39" fill="#a83200"/>
<rect x="512" y="204" width="3" height="17" fill="#a83200"/>
<rect x="516" y="223" width="1" height="12" fill="#a83200"/>
<rect x="515" y="229" width="3" height="1" fill="#a83200"/>
<rect x="518" y="223" width="1" height="19" fill="#a83200"/>
<rect x="517" y="229" width="3" height="6" fill="#a83200"/>
<rect x="520" y="223" width="1" height="12" fill="#000090"/>
<rect x="519.5" y="223.5" width="2" height="11" fill="#fff" stroke="#000090" stroke-width="1"/>
<rect x="522" y="217" width="1" height="18" fill="#000090"/>
<rect x="521.5" y="222.5" width="2" height="6" fill="#fff" stroke="#000090" stroke-width="1"/>
<rect x="524" y="217" width="1" height="18" fill="#000090"/>
<rect x="523.5" y="222.5" width="2" height="6" fill="#fff" stroke="#000090" stroke-width="1"/>
<rect x="528" y="218" width="1" height="10" fill="#000090"/>
<rect x="527.5" y="218.5" width="2" height="9" fill="#fff" stroke="#000090" stroke-width="1"/>
<rect x="530" y="212" width="1" height="10" fill="#000090"/>
<rect x="529.5" y="212.5" width="2" height="8" fill="#fff" stroke="#000090" stroke-width="1"/>
<rect x="533" y="204" width="1" height="18" fill="#000090"/>
<rect x="532.5" y="204.5" width="2" height="11" fill="#fff" stroke="#000090" stroke-width="1"/>
<rect x="536" y="204" width="1" height="7" fill="#000090"/>
<rect x="535.5" y="204.5" width="2" height="6" fill="#fff" stroke="#000090" stroke-width="1"/>
<rect x="538" y="199" width="1" height="23" fill="#a83200"/>
<rect x="537.5" y="211.5" width="2" height="4" fill="#fff" stroke="#a83200" stroke-width="1"/>
<rect x="540" y="204" width="1" height="13" fill="#a83200"/>
<rect x="539" y="204" width="3" height="7" fill="#a83200"/>
<rect x="543" y="199" width="1" height="12" fill="#000090"/>
<rect x="542" y="199" width="3" height="12" fill="#000090"/>
<rect x="545" y="198" width="1" height="13" fill="#000090"/>
<rect x="544.5" y="198.5" width="2" height="12" fill="#fff" stroke="#000090" stroke-width="1"/>
<rect x="548" y="192" width="1" height="25" fill="#a83200"/>
<rect x="547" y="198" width="3" height="19" fill="#a83200"/>
<rect x="552" y="217" width="1" height="25" fill="#a83200"/>
<rect x="551" y="217" width="3" height="13" fill="#a83200"/>
<rect x="554" y="222" width="1" height="20" fill="#a83200"/>
<rect x="553" y="230" width="3" height="5" fill="#a83200"/>
<rect x="556" y="222" width="1" height="13" fill="#a83200"/>
<rect x="555" y="230" width="3" height="5" fill="#a83200"/>
<rect x="560" y="211" width="1" height="19" fill="#000090"/>
<rect x="559" y="217" width="3" height="6" fill="#000090"/>
<rect x="562" y="204" width="1" height="31" fill="#000090"/>
<rect x="561" y="217" width="3" height="6" fill="#000090"/>
<rect x="565" y="204" width="1" height="30" fill="#000090"/>
<rect x="564.5" y="205.5" width="2" height="23" fill="#fff" stroke="#000090" stroke-width="1"/>
<rect x="568" y="199" width="1" height="24" fill="#a83200"/>
<rect x="567" y="199" width="3" height="18" fill="#a83200"/>
<rect x="570" y="211" width="1" height="12" fill="#000090"/>
<rect x="569.5" y="211.5" width="2" height="5" fill="#fff" stroke="#000090" stroke-width="1"/>
<rect x="573" y="204" width="1" height="13" fill="#000090"/>
<rect x="572.5" y="205.5" width="2" height="11" fill="#fff" stroke="#000090" stroke-width="1"/>
<rect x="575" y="199" width="1" height="12" fill="#000090"/>
<rect x="574" y="199" width="3" height="6" fill="#000090"/>
<rect x="578" y="192" width="1" height="12" fill="#000090"/>
<rect x="577.5" y="192.5" width="2" height="6" fill="#fff" stroke="#000090" stroke-width="1"/>
<rect x="580" y="174" width="1" height="30" fill="#000090"/>
<rect x="579.5" y="185.5" width="2" height="12" fill="#fff" stroke="#000090" stroke-width="1"/>
<rect x="584" y="180" width="1" height="12" fill="#000090"/>
<rect x="583.5" y="185.5" width="2" height="0" fill="#fff" stroke="#000090" stroke-width="1"/>
<rect x="587" y="179" width="1" height="13" fill="#000090"/>
<rect x="586.5" y="179.5" width="2" height="12" fill="#fff" stroke="#000090" stroke-width="1"/>
<rect x="590" y="186" width="1" height="18" fill="#a83200"/>
<rect x="589" y="186" width="3" height="18" fill="#a83200"/>
<rect x="593" y="204" width="1" height="13" fill="#a83200"/>
<rect x="592" y="204" width="3" height="7" fill="#a83200"/>
<rect x="595" y="211" width="1" height="6" fill="#a83200"/>
<rect x="594" y="211" width="3" height="1" fill="#a83200"/>
<rect x="598" y="211" width="1" height="23" fill="#a83200"/>
<rect x="597" y="211" width="3" height="18" fill="#a83200"/>
<rect x="600" y="210" width="1" height="19" fill="#000090"/>
<rect x="599.5" y="216.5" width="2" height="12" fill="#fff" stroke="#000090" stroke-width="1"/>
<rect x="603" y="204" width="1" height="25" fill="#a83200"/>
<rect x="602" y="217" width="3" height="12" fill="#a83200"/>
<rect x="606" y="229" width="1" height="13" fill="#a83200"/>
<rect x="605" y="234" width="3" height="1" fill="#a83200"/>
<rect x="609" y="217" width="1" height="31" fill="#000090"/>
<rect x="608" y="222" width="3" height="20" fill="#000090"/>
<rect x="611" y="217" width="1" height="17" fill="#000090"/>
<rect x="610.5" y="222.5" width="2" height="11" fill="#fff" stroke="#000090" stroke-width="1"/>
<rect x="614" y="217" width="1" height="25" fill="#000090"/>
<rect x="613.5" y="222.5" width="2" height="0" fill="#fff" stroke="#000090" stroke-width="1"/>
<rect x="616" y="223" width="1" height="25" fill="#a83200"/>
<rect x="615" y="229" width="3" height="13" fill="#a83200"/>
<rect x="618" y="229" width="1" height="13" fill="#a83200"/>
<rect x="617" y="229" width="3" height="13" fill="#a83200"/>
<rect x="619" y="217" width="1" height="17" fill="#000090"/>
<rect x="618.5" y="229.5" width="2" height="0" fill="#fff" stroke="#000090" stroke-width="1"/>
<rect x="623" y="243" width="1" height="11" fill="#a83200"/>
<rect x="622" y="243" width="3" height="11" fill="#a83200"/>
<rect x="625" y="243" width="1" height="18" fill="#000090"/>
<rect x="624" y="248" width="3" height="13" fill="#000090"/>
<rect x="627" y="229" width="1" height="25" fill="#000090"/>
<rect x="626.5" y="229.5" width="2" height="18" fill="#fff" stroke="#000090" stroke-width="1"/>
<rect x="630" y="229" width="1" height="19" fill="#a83200"/>
<rect x="629" y="229" width="3" height="19" fill="#a83200"/>
<rect x="633" y="222" width="1" height="26" fill="#000090"/>
<rect x="632.5" y="222.5" width="2" height="19" fill="#fff" stroke="#000090" stroke-width="1"/>
<rect x="635" y="222" width="1" height="7" fill="#000090"/>
<rect x="634.5" y="222.5" width="2" height="6" fill="#fff" stroke="#000090" stroke-width="1"/>
<rect x="637" y="217" width="1" height="12" fill="#000090"/>
<rect x="636.5" y="222.5" width="2" height="6" fill="#fff" stroke="#000090" stroke-width="1"/>
<rect x="639" y="217" width="1" height="12" fill="#000090"/>
<rect x="638" y="222" width="3" height="7" fill="#000090"/>
<rect x="641" y="224" width="1" height="10" fill="#a83200"/>
<rect x="640" y="229" width="3" height="1" fill="#a83200"/>
<rect x="643" y="224" width="1" height="5" fill="#a83200"/>
<rect x="642" y="229" width="3" height="1" fill="#a83200"/>
<rect x="0.00" y="660.0" width="2.85" height="7.0" fill="#7773c8"/>
<rect x="2.85" y="648.3" width="2.85" height="18.7" fill="#e0825a"/>
<rect x="5.69" y="658.1" width="2.85" height="8.9" fill="#7773c8"/>
<rect x="8.54" y="650.1" width="2.85" height="16.9" fill="#7773c8"/>
<rect x="11.38" y="663.4" width="2.85" height="3.6" fill="#e0825a"/>
<rect x="14.23" y="641.4" width="2.85" height="25.6" fill="#7773c8"/>
<rect x="15.93" y="659.2" width="2.85" height="7.8" fill="#e0825a"/>
<rect x="18.78" y="661.1" width="2.85" height="5.9" fill="#e0825a"/>
<rect x="21.63" y="657.2" width="3.19" height="9.8" fill="#7773c8"/>
<rect x="24.81" y="659.2" width="3.07" height="7.8" fill="#7773c8"/>
<rect x="27.89" y="649.2" width="2.85" height="17.8" fill="#e0825a"/>
<rect x="30.51" y="664.0" width="2.72" height="3.0" fill="#7773c8"/>
<rect x="32.79" y="661.1" width="2.72" height="5.9" fill="#e0825a"/>
<rect x="34.71" y="635.3" width="3.19" height="31.7" fill="#7773c8"/>
<rect x="37.90" y="661.1" width="3.07" height="5.9" fill="#e0825a"/>
<rect x="40.97" y="642.4" width="2.85" height="24.6" fill="#7773c8"/>
<rect x="43.82" y="643.5" width="2.85" height="23.5" fill="#7773c8"/>
<rect x="46.44" y="661.1" width="2.72" height="5.9" fill="#7773c8"/>
<rect x="48.94" y="657.2" width="3.07" height="9.8" fill="#e0825a"/>
<rect x="52.01" y="665.1" width="3.19" height="1.9" fill="#7773c8"/>
<rect x="55.20" y="661.1" width="2.85" height="5.9" fill="#7773c8"/>
<rect x="57.83" y="664.0" width="2.72" height="3.0" fill="#7773c8"/>
<rect x="60.10" y="656.0" width="2.72" height="11.0" fill="#7773c8"/>
<rect x="62.38" y="661.1" width="2.72" height="5.9" fill="#7773c8"/>
<rect x="64.88" y="653.5" width="2.85" height="13.5" fill="#7773c8"/>
<rect x="67.50" y="655.1" width="2.72" height="11.9" fill="#e0825a"/>
<rect x="68.05" y="655.1" width="3.07" height="11.9" fill="#e0825a"/>
<rect x="71.12" y="658.1" width="2.85" height="8.9" fill="#e0825a"/>
<rect x="73.97" y="639.5" width="2.85" height="27.5" fill="#7773c8"/>
<rect x="76.81" y="654.3" width="2.85" height="12.7" fill="#e0825a"/>
<rect x="79.66" y="656.0" width="2.85" height="11.0" fill="#7773c8"/>
<rect x="81.93" y="658.1" width="2.85" height="8.9" fill="#e0825a"/>
<rect x="84.78" y="663.4" width="2.62" height="3.6" fill="#7773c8"/>
<rect x="87.29" y="661.1" width="2.72" height="5.9" fill="#7773c8"/>
<rect x="89.90" y="657.2" width="3.19" height="9.8" fill="#e0825a"/>
<rect x="93.09" y="663.4" width="2.73" height="3.6" fill="#e0825a"/>
<rect x="95.82" y="648.3" width="3.19" height="18.7" fill="#e0825a"/>
<rect x="98.67" y="659.2" width="2.72" height="7.8" fill="#e0825a"/>
<rect x="101.06" y="624.1" width="3.07" height="42.9" fill="#e0825a"/>
<rect x="104.13" y="638.4" width="2.85" height="28.6" fill="#e0825a"/>
<rect x="106.75" y="656.0" width="2.72" height="11.0" fill="#7773c8"/>
<rect x="109.25" y="652.4" width="2.85" height="14.6" fill="#7773c8"/>
<rect x="111.59" y="659.7" width="2.72" height="7.3" fill="#7773c8"/>
<rect x="113.80" y="660.3" width="2.85" height="6.7" fill="#7773c8"/>
<rect x="116.65" y="662.3" width="3.41" height="4.7" fill="#7773c8"/>
<rect x="120.06" y="655.1" width="2.85" height="11.9" fill="#e0825a"/>
<rect x="122.91" y="656.2" width="2.85" height="10.8" fill="#e0825a"/>
<rect x="126.10" y="606.2" width="3.07" height="60.8" fill="#e0825a"/>
<rect x="129.17" y="616.4" width="2.85" height="50.6" fill="#7773c8"/>
<rect x="131.51" y="645.2" width="2.72" height="21.8" fill="#7773c8"/>
<rect x="133.67" y="652.0" width="2.72" height="15.0" fill="#e0825a"/>
<rect x="131.20" y="645.2" width="2.72" height="21.8" fill="#7773c8"/>
<rect x="133.41" y="652.0" width="2.85" height="15.0" fill="#e0825a"/>
<rect x="136.26" y="651.2" width="2.85" height="15.8" fill="#e0825a"/>
<rect x="139.11" y="658.1" width="2.85" height="8.9" fill="#e0825a"/>
<rect x="141.95" y="661.1" width="2.85" height="5.9" fill="#7773c8"/>
<rect x="144.80" y="658.1" width="2.85" height="8.9" fill="#7773c8"/>
<rect x="147.07" y="661.1" width="2.85" height="5.9" fill="#e0825a"/>
<rect x="149.92" y="627.0" width="2.85" height="40.0" fill="#e0825a"/>
<rect x="152.43" y="658.1" width="2.72" height="8.9" fill="#7773c8"/>
<rect x="154.81" y="635.3" width="3.07" height="31.7" fill="#e0825a"/>
<rect x="157.89" y="655.1" width="2.85" height="11.9" fill="#7773c8"/>
<rect x="160.73" y="658.1" width="2.85" height="8.9" fill="#7773c8"/>
<rect x="163.58" y="657.2" width="3.07" height="9.8" fill="#e0825a"/>
<rect x="166.65" y="661.1" width="2.62" height="5.9" fill="#7773c8"/>
<rect x="169.27" y="656.0" width="2.62" height="11.0" fill="#7773c8"/>
<rect x="171.88" y="663.4" width="2.73" height="3.6" fill="#e0825a"/>
<rect x="174.62" y="658.1" width="2.96" height="8.9" fill="#e0825a"/>
<rect x="177.58" y="663.4" width="2.73" height="3.6" fill="#e0825a"/>
<rect x="179.97" y="662.3" width="2.72" height="4.7" fill="#7773c8"/>
<rect x="182.36" y="658.9" width="2.85" height="8.1" fill="#e0825a"/>
<rect x="185.20" y="656.0" width="2.85" height="11.0" fill="#7773c8"/>
<rect x="188.05" y="657.2" width="2.85" height="9.8" fill="#7773c8"/>
<rect x="190.89" y="660.0" width="2.85" height="7.0" fill="#7773c8"/>
<rect x="193.74" y="658.1" width="3.19" height="8.9" fill="#e0825a"/>
<rect x="196.82" y="660.0" width="2.72" height="7.0" fill="#7773c8"/>
<rect x="196.69" y="660.0" width="2.72" height="7.0" fill="#7773c8"/>
<rect x="199.08" y="658.9" width="2.72" height="8.1" fill="#e0825a"/>
<rect x="201.58" y="664.0" width="2.72" height="3.0" fill="#7773c8"/>
<rect x="204.19" y="661.1" width="2.62" height="5.9" fill="#7773c8"/>
<rect x="206.81" y="662.3" width="2.85" height="4.7" fill="#7773c8"/>
<rect x="209.66" y="658.9" width="2.85" height="8.1" fill="#7773c8"/>
<rect x="212.28" y="663.4" width="2.72" height="3.6" fill="#7773c8"/>
<rect x="214.78" y="661.1" width="3.07" height="5.9" fill="#e0825a"/>
<rect x="217.85" y="653.2" width="2.96" height="13.8" fill="#7773c8"/>
<rect x="220.81" y="636.9" width="3.07" height="30.1" fill="#7773c8"/>
<rect x="223.89" y="655.1" width="2.85" height="11.9" fill="#7773c8"/>
<rect x="226.73" y="655.4" width="2.85" height="11.6" fill="#7773c8"/>
<rect x="229.58" y="660.0" width="2.62" height="7.0" fill="#e0825a"/>
<rect x="232.19" y="658.9" width="2.73" height="8.1" fill="#7773c8"/>
<rect x="234.93" y="658.1" width="2.62" height="8.9" fill="#7773c8"/>
<rect x="237.54" y="658.9" width="2.85" height="8.1" fill="#7773c8"/>
<rect x="240.28" y="649.2" width="2.72" height="17.8" fill="#e0825a"/>
<rect x="242.89" y="661.9" width="2.62" height="5.1" fill="#7773c8"/>
<rect x="245.51" y="662.3" width="2.85" height="4.7" fill="#7773c8"/>
<rect x="248.36" y="663.4" width="2.85" height="3.6" fill="#7773c8"/>
<rect x="251.20" y="661.1" width="2.85" height="5.9" fill="#e0825a"/>
<rect x="253.83" y="658.9" width="2.72" height="8.1" fill="#e0825a"/>
<rect x="256.10" y="661.1" width="2.72" height="5.9" fill="#e0825a"/>
<rect x="258.60" y="662.3" width="2.85" height="4.7" fill="#7773c8"/>
<rect x="261.45" y="663.4" width="2.85" height="3.6" fill="#e0825a"/>
<rect x="263.78" y="656.0" width="2.72" height="11.0" fill="#e0825a"/>
<rect x="264.05" y="656.0" width="3.07" height="11.0" fill="#e0825a"/>
<rect x="267.12" y="661.1" width="2.85" height="5.9" fill="#7773c8"/>
<rect x="269.97" y="660.0" width="2.85" height="7.0" fill="#e0825a"/>
<rect x="272.81" y="661.1" width="2.85" height="5.9" fill="#7773c8"/>
<rect x="275.66" y="658.1" width="3.98" height="8.9" fill="#7773c8"/>
<rect x="280.21" y="660.0" width="2.85" height="7.0" fill="#e0825a"/>
<rect x="283.06" y="663.4" width="2.85" height="3.6" fill="#e0825a"/>
<rect x="285.90" y="663.4" width="2.85" height="3.6" fill="#7773c8"/>
<rect x="288.75" y="665.1" width="3.07" height="1.9" fill="#7773c8"/>
<rect x="291.82" y="660.0" width="3.19" height="7.0" fill="#e0825a"/>
<rect x="294.79" y="658.9" width="2.72" height="8.1" fill="#7773c8"/>
<rect x="297.28" y="656.2" width="2.85" height="10.8" fill="#e0825a"/>
<rect x="299.74" y="660.0" width="2.72" height="7.0" fill="#7773c8"/>
<rect x="302.06" y="653.2" width="2.96" height="13.8" fill="#e0825a"/>
<rect x="305.02" y="654.0" width="3.07" height="13.0" fill="#e0825a"/>
<rect x="308.10" y="649.2" width="2.85" height="17.8" fill="#7773c8"/>
<rect x="310.61" y="661.1" width="2.72" height="5.9" fill="#7773c8"/>
<rect x="312.99" y="634.2" width="3.07" height="32.8" fill="#7773c8"/>
<rect x="316.06" y="649.2" width="2.85" height="17.8" fill="#e0825a"/>
<rect x="318.91" y="582.6" width="2.85" height="84.4" fill="#7773c8"/>
<rect x="321.75" y="646.9" width="2.62" height="20.1" fill="#7773c8"/>
<rect x="324.37" y="637.2" width="2.73" height="29.8" fill="#7773c8"/>
<rect x="327.10" y="654.3" width="2.96" height="12.7" fill="#7773c8"/>
<rect x="329.67" y="664.0" width="2.72" height="3.0" fill="#7773c8"/>
<rect x="327.71" y="654.2" width="2.72" height="12.8" fill="#7773c8"/>
<rect x="329.86" y="664.5" width="2.72" height="2.5" fill="#7773c8"/>
<rect x="332.29" y="658.0" width="2.86" height="9.0" fill="#7773c8"/>
<rect x="335.16" y="657.0" width="2.86" height="10.0" fill="#e0825a"/>
<rect x="338.02" y="657.0" width="3.15" height="10.0" fill="#e0825a"/>
<rect x="341.10" y="643.7" width="2.72" height="23.3" fill="#7773c8"/>
<rect x="343.67" y="662.3" width="2.72" height="4.7" fill="#7773c8"/>
<rect x="346.18" y="657.3" width="2.72" height="9.7" fill="#7773c8"/>
<rect x="348.47" y="661.3" width="2.72" height="5.7" fill="#7773c8"/>
<rect x="350.90" y="660.5" width="2.86" height="6.5" fill="#e0825a"/>
<rect x="353.77" y="662.8" width="2.86" height="4.2" fill="#7773c8"/>
<rect x="356.63" y="655.6" width="3.15" height="11.4" fill="#e0825a"/>
<rect x="359.71" y="660.2" width="2.72" height="6.8" fill="#7773c8"/>
<rect x="362.28" y="659.5" width="2.72" height="7.5" fill="#7773c8"/>
<rect x="364.93" y="660.2" width="2.86" height="6.8" fill="#7773c8"/>
<rect x="367.79" y="641.6" width="3.15" height="25.4" fill="#7773c8"/>
<rect x="370.87" y="660.2" width="2.72" height="6.8" fill="#7773c8"/>
<rect x="373.38" y="645.2" width="2.72" height="21.8" fill="#7773c8"/>
<rect x="375.95" y="585.5" width="2.86" height="81.5" fill="#7773c8"/>
<rect x="378.53" y="658.0" width="2.72" height="9.0" fill="#7773c8"/>
<rect x="380.96" y="621.5" width="2.86" height="45.5" fill="#e0825a"/>
<rect x="383.83" y="658.0" width="3.15" height="9.0" fill="#e0825a"/>
<rect x="386.98" y="638.7" width="2.86" height="28.3" fill="#e0825a"/>
<rect x="389.84" y="640.1" width="2.86" height="26.9" fill="#e0825a"/>
<rect x="392.63" y="660.9" width="2.72" height="6.1" fill="#e0825a"/>
<rect x="395.28" y="655.9" width="2.72" height="11.1" fill="#e0825a"/>
<rect x="395.26" y="656.5" width="2.68" height="10.5" fill="#e0825a"/>
<rect x="397.76" y="662.2" width="2.72" height="4.8" fill="#7773c8"/>
<rect x="400.31" y="660.9" width="2.84" height="6.1" fill="#e0825a"/>
<rect x="403.14" y="659.0" width="2.68" height="8.0" fill="#7773c8"/>
<rect x="405.82" y="659.0" width="3.15" height="8.0" fill="#e0825a"/>
<rect x="408.98" y="566.0" width="3.15" height="101.0" fill="#7773c8"/>
<rect x="411.79" y="602.9" width="2.72" height="64.1" fill="#7773c8"/>
<rect x="414.18" y="642.0" width="3.15" height="25.0" fill="#7773c8"/>
<rect x="417.08" y="653.0" width="2.72" height="14.0" fill="#7773c8"/>
<rect x="419.44" y="655.9" width="2.72" height="11.1" fill="#7773c8"/>
<rect x="422.06" y="651.1" width="2.68" height="15.9" fill="#7773c8"/>
<rect x="424.74" y="658.5" width="3.15" height="8.5" fill="#7773c8"/>
<rect x="427.72" y="660.9" width="2.72" height="6.1" fill="#7773c8"/>
<rect x="430.08" y="655.4" width="2.72" height="11.6" fill="#7773c8"/>
<rect x="432.63" y="643.2" width="3.15" height="23.8" fill="#7773c8"/>
<rect x="435.78" y="664.1" width="3.15" height="2.9" fill="#e0825a"/>
<rect x="438.93" y="648.0" width="2.68" height="19.0" fill="#7773c8"/>
<rect x="441.36" y="659.6" width="2.72" height="7.4" fill="#7773c8"/>
<rect x="443.56" y="659.6" width="2.72" height="7.4" fill="#7773c8"/>
<rect x="446.03" y="650.2" width="2.84" height="16.8" fill="#7773c8"/>
<rect x="448.86" y="657.7" width="2.68" height="9.3" fill="#7773c8"/>
<rect x="451.21" y="651.4" width="2.72" height="15.6" fill="#7773c8"/>
<rect x="453.02" y="650.7" width="2.72" height="16.3" fill="#7773c8"/>
<rect x="455.17" y="630.9" width="2.68" height="36.1" fill="#7773c8"/>
<rect x="457.51" y="643.9" width="2.72" height="23.1" fill="#7773c8"/>
<rect x="459.64" y="637.3" width="2.72" height="29.7" fill="#7773c8"/>
<rect x="461.69" y="607.0" width="2.72" height="60.0" fill="#7773c8"/>
<rect x="463.15" y="607.0" width="2.84" height="60.0" fill="#7773c8"/>
<rect x="465.99" y="636.5" width="3.15" height="30.5" fill="#e0825a"/>
<rect x="469.14" y="652.7" width="3.15" height="14.3" fill="#e0825a"/>
<rect x="472.04" y="649.5" width="2.72" height="17.5" fill="#7773c8"/>
<rect x="474.41" y="654.6" width="2.72" height="12.4" fill="#7773c8"/>
<rect x="476.77" y="660.1" width="2.72" height="6.9" fill="#7773c8"/>
<rect x="479.23" y="647.5" width="2.84" height="19.5" fill="#7773c8"/>
<rect x="482.07" y="629.4" width="2.84" height="37.6" fill="#7773c8"/>
<rect x="484.65" y="654.3" width="2.72" height="12.7" fill="#7773c8"/>
<rect x="486.78" y="654.6" width="2.72" height="12.4" fill="#7773c8"/>
<rect x="488.83" y="654.6" width="2.72" height="12.4" fill="#7773c8"/>
<rect x="490.96" y="640.1" width="2.72" height="26.9" fill="#7773c8"/>
<rect x="493.32" y="638.5" width="2.72" height="28.5" fill="#7773c8"/>
<rect x="495.69" y="645.1" width="2.72" height="21.9" fill="#7773c8"/>
<rect x="498.15" y="630.6" width="2.84" height="36.4" fill="#7773c8"/>
<rect x="500.99" y="651.4" width="3.15" height="15.6" fill="#e0825a"/>
<rect x="504.14" y="609.7" width="2.84" height="57.3" fill="#7773c8"/>
<rect x="506.98" y="628.1" width="3.15" height="38.9" fill="#7773c8"/>
<rect x="509.72" y="634.1" width="2.72" height="32.9" fill="#7773c8"/>
<rect x="512.03" y="625.4" width="2.84" height="41.6" fill="#e0825a"/>
<rect x="514.86" y="652.2" width="2.68" height="14.8" fill="#e0825a"/>
<rect x="517.37" y="645.1" width="2.72" height="21.9" fill="#e0825a"/>
<rect x="519.91" y="651.4" width="3.15" height="15.6" fill="#7773c8"/>
<rect x="523.06" y="652.2" width="3.15" height="14.8" fill="#7773c8"/>
<rect x="526.21" y="650.2" width="3.78" height="16.8" fill="#7773c8"/>
<rect x="528.74" y="654.9" width="2.72" height="12.1" fill="#7773c8"/>
<rect x="531.26" y="654.9" width="2.72" height="12.1" fill="#7773c8"/>
<rect x="533.88" y="649.1" width="2.84" height="17.9" fill="#7773c8"/>
<rect x="536.72" y="647.0" width="3.15" height="20.0" fill="#e0825a"/>
<rect x="539.87" y="648.3" width="3.15" height="18.7" fill="#7773c8"/>
<rect x="542.45" y="650.7" width="2.72" height="16.3" fill="#7773c8"/>
<rect x="544.35" y="644.3" width="2.72" height="22.7" fill="#7773c8"/>
<rect x="546.81" y="655.4" width="2.84" height="11.6" fill="#e0825a"/>
<rect x="549.65" y="653.0" width="3.15" height="14.0" fill="#e0825a"/>
<rect x="552.80" y="657.0" width="3.15" height="10.0" fill="#e0825a"/>
<rect x="555.95" y="657.0" width="3.15" height="10.0" fill="#7773c8"/>
<rect x="558.69" y="645.1" width="2.72" height="21.9" fill="#7773c8"/>
<rect x="561.00" y="628.1" width="2.84" height="38.9" fill="#7773c8"/>
<rect x="563.42" y="642.8" width="2.72" height="24.2" fill="#7773c8"/>
<rect x="565.73" y="641.2" width="3.15" height="25.8" fill="#e0825a"/>
<rect x="568.88" y="659.0" width="2.84" height="8.0" fill="#7773c8"/>
<rect x="571.54" y="660.6" width="2.72" height="6.4" fill="#7773c8"/>
<rect x="574.08" y="658.5" width="2.68" height="8.5" fill="#7773c8"/>
<rect x="576.76" y="650.2" width="2.84" height="16.8" fill="#7773c8"/>
<rect x="579.60" y="625.0" width="3.15" height="42.0" fill="#7773c8"/>
<rect x="582.76" y="642.0" width="2.84" height="25.0" fill="#7773c8"/>
<rect x="585.59" y="657.0" width="2.68" height="10.0" fill="#7773c8"/>
<rect x="588.27" y="643.9" width="3.15" height="23.1" fill="#e0825a"/>
<rect x="591.25" y="648.3" width="2.72" height="18.7" fill="#e0825a"/>
<rect x="593.53" y="645.9" width="2.72" height="21.1" fill="#7773c8"/>
<rect x="593.79" y="645.9" width="2.72" height="21.1" fill="#7773c8"/>
<rect x="596.41" y="646.4" width="2.68" height="20.6" fill="#e0825a"/>
<rect x="599.09" y="649.1" width="2.68" height="17.9" fill="#7773c8"/>
<rect x="601.77" y="654.9" width="3.15" height="12.1" fill="#e0825a"/>
<rect x="604.93" y="653.0" width="2.84" height="14.0" fill="#e0825a"/>
<rect x="607.59" y="622.3" width="2.72" height="44.7" fill="#7773c8"/>
<rect x="610.13" y="602.3" width="2.68" height="64.7" fill="#7773c8"/>
<rect x="612.71" y="632.2" width="2.72" height="34.8" fill="#7773c8"/>
<rect x="615.33" y="618.3" width="2.68" height="48.7" fill="#e0825a"/>
<rect x="618.01" y="645.9" width="2.68" height="21.1" fill="#7773c8"/>
<rect x="620.69" y="660.1" width="3.15" height="6.9" fill="#e0825a"/>
<rect x="623.75" y="654.6" width="2.72" height="12.4" fill="#7773c8"/>
<rect x="626.37" y="654.3" width="2.68" height="12.7" fill="#7773c8"/>
<rect x="629.05" y="650.2" width="2.68" height="16.8" fill="#e0825a"/>
<rect x="631.73" y="650.2" width="2.84" height="16.8" fill="#7773c8"/>
<rect x="634.57" y="650.2" width="3.15" height="16.8" fill="#7773c8"/>
<rect x="637.31" y="660.1" width="2.72" height="6.9" fill="#7773c8"/>
<rect x="639.61" y="656.2" width="2.84" height="10.8" fill="#e0825a"/>
<rect x="642.27" y="664.1" width="2.72" height="2.9" fill="#7773c8"/>
<line x1="0" y1="0.5" x2="724" y2="0.5" stroke="#000" stroke-width="1.2"/>
<line x1="0" y1="139.5" x2="724" y2="139.5" stroke="#000" stroke-width="1"/>
<line x1="0" y1="558.5" x2="724" y2="558.5" stroke="#000" stroke-width="1"/>
<line x1="0" y1="667.5" x2="675.5" y2="667.5" stroke="#000" stroke-width="1"/>
<line x1="675.5" y1="0" x2="675.5" y2="668" stroke="#000" stroke-width="1"/>
<path d="M675.5,135.5h8 M675.5,126.5h4 M675.5,117.5h8 M675.5,108.5h4 M675.5,99.5h8 M675.5,90.5h4 M675.5,81.5h8 M675.5,71.5h4 M675.5,62.5h8 M675.5,53.5h4 M675.5,44.5h8 M675.5,35.5h4 M675.5,26.5h8 M675.5,17.5h4 M675.5,8.5h8 M675.5,555.5h4 M675.5,547.5h8 M675.5,539.5h4 M675.5,532.5h4 M675.5,524.5h4 M675.5,516.5h4 M675.5,508.5h8 M675.5,500.5h4 M675.5,493.5h4 M675.5,485.5h4 M675.5,477.5h4 M675.5,470.5h8 M675.5,462.5h4 M675.5,455.5h4 M675.5,447.5h4 M675.5,440.5h4 M675.5,433.5h8 M675.5,425.5h4 M675.5,418.5h4 M675.5,411.5h4 M675.5,404.5h4 M675.5,397.5h8 M675.5,389.5h4 M675.5,382.5h4 M675.5,375.5h4 M675.5,368.5h4 M675.5,361.5h8 M675.5,355.5h4 M675.5,348.5h4 M675.5,341.5h4 M675.5,334.5h4 M675.5,327.5h8 M675.5,320.5h4 M675.5,314.5h4 M675.5,307.5h4 M675.5,300.5h4 M675.5,294.5h8 M675.5,287.5h4 M675.5,281.5h4 M675.5,274.5h4 M675.5,268.5h4 M675.5,261.5h8 M675.5,255.5h4 M675.5,248.5h4 M675.5,242.5h4 M675.5,236.5h4 M675.5,230.5h8 M675.5,223.5h4 M675.5,217.5h4 M675.5,211.5h4 M675.5,205.5h4 M675.5,199.5h8 M675.5,192.5h4 M675.5,186.5h4 M675.5,180.5h4 M675.5,174.5h4 M675.5,168.5h8 M675.5,162.5h4 M675.5,156.5h4 M675.5,150.5h4 M675.5,144.5h4 M675.5,657.5h4 M675.5,647.5h8 M675.5,637.5h4 M675.5,627.5h8 M675.5,617.5h4 M675.5,607.5h8 M675.5,597.5h4 M675.5,587.5h8 M675.5,577.5h4 M675.5,567.5h8" stroke="#000" stroke-width="1.1" fill="none"/>
<text x="707.6" y="13.6" font-family="Liberation Sans, sans-serif" font-size="12.4" fill="#000" stroke="#000" stroke-width="0.08" text-anchor="start" font-weight="normal" textLength="12.6" lengthAdjust="spacingAndGlyphs">90</text>
<text x="707.6" y="31.93" font-family="Liberation Sans, sans-serif" font-size="12.4" fill="#000" stroke="#000" stroke-width="0.08" text-anchor="start" font-weight="normal" textLength="12.6" lengthAdjust="spacingAndGlyphs">80</text>
<text x="707.6" y="50.26" font-family="Liberation Sans, sans-serif" font-size="12.4" fill="#000" stroke="#000" stroke-width="0.08" text-anchor="start" font-weight="normal" textLength="12.6" lengthAdjust="spacingAndGlyphs">70</text>
<text x="707.6" y="68.59" font-family="Liberation Sans, sans-serif" font-size="12.4" fill="#000" stroke="#000" stroke-width="0.08" text-anchor="start" font-weight="normal" textLength="12.6" lengthAdjust="spacingAndGlyphs">60</text>
<text x="707.6" y="86.91999999999999" font-family="Liberation Sans, sans-serif" font-size="12.4" fill="#000" stroke="#000" stroke-width="0.08" text-anchor="start" font-weight="normal" textLength="12.6" lengthAdjust="spacingAndGlyphs">50</text>
<text x="707.6" y="105.24999999999999" font-family="Liberation Sans, sans-serif" font-size="12.4" fill="#000" stroke="#000" stroke-width="0.08" text-anchor="start" font-weight="normal" textLength="12.6" lengthAdjust="spacingAndGlyphs">40</text>
<text x="707.6" y="123.58" font-family="Liberation Sans, sans-serif" font-size="12.4" fill="#000" stroke="#000" stroke-width="0.08" text-anchor="start" font-weight="normal" textLength="12.6" lengthAdjust="spacingAndGlyphs">30</text>
<text x="697.6" y="173.6" font-family="Liberation Sans, sans-serif" font-size="12.4" fill="#000" stroke="#000" stroke-width="0.08" text-anchor="start" font-weight="normal" textLength="22.6" lengthAdjust="spacingAndGlyphs">2.20</text>
<text x="697.6" y="203.90248397197556" font-family="Liberation Sans, sans-serif" font-size="12.4" fill="#000" stroke="#000" stroke-width="0.08" text-anchor="start" font-weight="normal" textLength="22.6" lengthAdjust="spacingAndGlyphs">2.15</text>
<text x="697.6" y="234.91803260835238" font-family="Liberation Sans, sans-serif" font-size="12.4" fill="#000" stroke="#000" stroke-width="0.08" text-anchor="start" font-weight="normal" textLength="22.6" lengthAdjust="spacingAndGlyphs">2.10</text>
<text x="697.6" y="266.6810153447121" font-family="Liberation Sans, sans-serif" font-size="12.4" fill="#000" stroke="#000" stroke-width="0.08" text-anchor="start" font-weight="normal" textLength="22.6" lengthAdjust="spacingAndGlyphs">2.05</text>
<text x="697.6" y="299.2283480000807" font-family="Liberation Sans, sans-serif" font-size="12.4" fill="#000" stroke="#000" stroke-width="0.08" text-anchor="start" font-weight="normal" textLength="22.6" lengthAdjust="spacingAndGlyphs">2.00</text>
<text x="697.6" y="332.5997507041732" font-family="Liberation Sans, sans-serif" font-size="12.4" fill="#000" stroke="#000" stroke-width="0.08" text-anchor="start" font-weight="normal" textLength="22.6" lengthAdjust="spacingAndGlyphs">1.95</text>
<text x="697.6" y="366.83803933231115" font-family="Liberation Sans, sans-serif" font-size="12.4" fill="#000" stroke="#000" stroke-width="0.08" text-anchor="start" font-weight="normal" textLength="22.6" lengthAdjust="spacingAndGlyphs">1.90</text>
<text x="697.6" y="401.98945581130783" font-family="Liberation Sans, sans-serif" font-size="12.4" fill="#000" stroke="#000" stroke-width="0.08" text-anchor="start" font-weight="normal" textLength="22.6" lengthAdjust="spacingAndGlyphs">1.85</text>
<text x="697.6" y="438.1040436886615" font-family="Liberation Sans, sans-serif" font-size="12.4" fill="#000" stroke="#000" stroke-width="0.08" text-anchor="start" font-weight="normal" textLength="22.6" lengthAdjust="spacingAndGlyphs">1.80</text>
<text x="697.6" y="475.236076618464" font-family="Liberation Sans, sans-serif" font-size="12.4" fill="#000" stroke="#000" stroke-width="0.08" text-anchor="start" font-weight="normal" textLength="22.6" lengthAdjust="spacingAndGlyphs">1.75</text>
<text x="697.6" y="513.4445489710979" font-family="Liberation Sans, sans-serif" font-size="12.4" fill="#000" stroke="#000" stroke-width="0.08" text-anchor="start" font-weight="normal" textLength="22.6" lengthAdjust="spacingAndGlyphs">1.70</text>
<text x="697.6" y="552.7937396986927" font-family="Liberation Sans, sans-serif" font-size="12.4" fill="#000" stroke="#000" stroke-width="0.08" text-anchor="start" font-weight="normal" textLength="22.6" lengthAdjust="spacingAndGlyphs">1.65</text>
<text x="686.8" y="572.1999999999999" font-family="Liberation Sans, sans-serif" font-size="12.4" fill="#000" stroke="#000" stroke-width="0.08" text-anchor="start" font-weight="normal" textLength="32.3" lengthAdjust="spacingAndGlyphs">50000</text>
<text x="686.8" y="592.1999999999999" font-family="Liberation Sans, sans-serif" font-size="12.4" fill="#000" stroke="#000" stroke-width="0.08" text-anchor="start" font-weight="normal" textLength="32.3" lengthAdjust="spacingAndGlyphs">40000</text>
<text x="686.8" y="612.1999999999999" font-family="Liberation Sans, sans-serif" font-size="12.4" fill="#000" stroke="#000" stroke-width="0.08" text-anchor="start" font-weight="normal" textLength="32.3" lengthAdjust="spacingAndGlyphs">30000</text>
<text x="686.8" y="632.1999999999999" font-family="Liberation Sans, sans-serif" font-size="12.4" fill="#000" stroke="#000" stroke-width="0.08" text-anchor="start" font-weight="normal" textLength="32.3" lengthAdjust="spacingAndGlyphs">20000</text>
<text x="686.8" y="652.1999999999999" font-family="Liberation Sans, sans-serif" font-size="12.4" fill="#000" stroke="#000" stroke-width="0.08" text-anchor="start" font-weight="normal" textLength="32.3" lengthAdjust="spacingAndGlyphs">10000</text>
<rect x="677" y="654.5" width="27.5" height="12" fill="#fff" stroke="#000" stroke-width="1"/>
<text x="679" y="664.5" font-family="Liberation Sans, sans-serif" font-size="9.5" fill="#000" stroke="#000" stroke-width="0.08" text-anchor="start" font-weight="normal" textLength="23.5" lengthAdjust="spacingAndGlyphs">x1000</text>
<line x1="34.5" y1="667" x2="34.5" y2="685" stroke="#000" stroke-width="1.1"/>
<text x="36.0" y="682.5" font-family="Liberation Sans, sans-serif" font-size="11.8" fill="#000" stroke="#000" stroke-width="0.08" text-anchor="start" font-weight="normal" >June</text>
<line x1="94.5" y1="667" x2="94.5" y2="685" stroke="#000" stroke-width="1.1"/>
<text x="96.0" y="682.5" font-family="Liberation Sans, sans-serif" font-size="11.8" fill="#000" stroke="#000" stroke-width="0.08" text-anchor="start" font-weight="normal" >July</text>
<line x1="154.5" y1="667" x2="154.5" y2="685" stroke="#000" stroke-width="1.1"/>
<text x="156.0" y="682.5" font-family="Liberation Sans, sans-serif" font-size="11.8" fill="#000" stroke="#000" stroke-width="0.08" text-anchor="start" font-weight="normal" >August</text>
<line x1="214.5" y1="667" x2="214.5" y2="685" stroke="#000" stroke-width="1.1"/>
<text x="216.0" y="682.5" font-family="Liberation Sans, sans-serif" font-size="11.8" fill="#000" stroke="#000" stroke-width="0.08" text-anchor="start" font-weight="normal" >September</text>
<line x1="274.5" y1="667" x2="274.5" y2="685" stroke="#000" stroke-width="1.1"/>
<line x1="330.6" y1="667" x2="330.6" y2="685" stroke="#000" stroke-width="1.1"/>
<text x="332.1" y="682.5" font-family="Liberation Sans, sans-serif" font-size="11.8" fill="#000" stroke="#000" stroke-width="0.08" text-anchor="start" font-weight="normal" >November</text>
<line x1="391.3" y1="667" x2="391.3" y2="685" stroke="#000" stroke-width="1.1"/>
<text x="392.8" y="682.5" font-family="Liberation Sans, sans-serif" font-size="11.8" fill="#000" stroke="#000" stroke-width="0.08" text-anchor="start" font-weight="normal" >December</text>
<line x1="453.4" y1="667" x2="453.4" y2="685" stroke="#000" stroke-width="1.1"/>
<text x="454.9" y="682.5" font-family="Liberation Sans, sans-serif" font-size="11.8" fill="#000" stroke="#000" stroke-width="0.08" text-anchor="start" font-weight="normal" >2005</text>
<line x1="511.2" y1="667" x2="511.2" y2="685" stroke="#000" stroke-width="1.1"/>
<text x="512.7" y="682.5" font-family="Liberation Sans, sans-serif" font-size="11.8" fill="#000" stroke="#000" stroke-width="0.08" text-anchor="start" font-weight="normal" >February</text>
<line x1="565.3" y1="667" x2="565.3" y2="685" stroke="#000" stroke-width="1.1"/>
<text x="566.8" y="682.5" font-family="Liberation Sans, sans-serif" font-size="11.8" fill="#000" stroke="#000" stroke-width="0.08" text-anchor="start" font-weight="normal" >March</text>
<line x1="622.4" y1="667" x2="622.4" y2="685" stroke="#000" stroke-width="1.1"/>
<text x="623.9" y="682.5" font-family="Liberation Sans, sans-serif" font-size="11.8" fill="#000" stroke="#000" stroke-width="0.08" text-anchor="start" font-weight="normal" >April</text>
<path d="M4.5,667v5 M18.5,667v5 M31.5,667v5 M45.5,667v5 M58.5,667v5 M72.5,667v5 M86.5,667v5 M99.5,667v5 M113.5,667v5 M127.5,667v5 M140.5,667v5 M167.5,667v5 M181.5,667v5 M195.5,667v5 M208.5,667v5 M222.5,667v5 M235.5,667v5 M249.5,667v5 M263.5,667v5 M276.5,667v5 M290.5,667v5 M303.5,667v5 M317.5,667v5 M344.5,667v5 M358.5,667v5 M372.5,667v5 M385.5,667v5 M399.5,667v5 M412.5,667v5 M426.5,667v5 M440.5,667v5 M467.5,667v5 M480.5,667v5 M494.5,667v5 M508.5,667v5 M521.5,667v5 M535.5,667v5 M548.5,667v5 M562.5,667v5 M576.5,667v5 M589.5,667v5 M603.5,667v5 M614.5,667v5 M625.5,667v5 M638.5,667v5 M652.5,667v5 M666.5,667v5" stroke="#000" stroke-width="1.1" fill="none"/>
<text x="197.8" y="154" font-family="Liberation Sans, sans-serif" font-size="12" fill="#000" stroke="#000" stroke-width="0.08" text-anchor="start" font-weight="normal" textLength="279" lengthAdjust="spacingAndGlyphs">BCP (2.10000, 2.11000, 2.10000, 2.10000, +0.00000)</text>
<text x="241" y="15" font-family="Liberation Sans, sans-serif" font-size="11.5" fill="#000" stroke="#000" stroke-width="0.08" text-anchor="start" font-weight="normal" >OR</text>
<text x="256" y="15" font-family="Liberation Sans, sans-serif" font-size="11.5" fill="#000" stroke="#000" stroke-width="0.08" text-anchor="start" font-weight="normal" textLength="176" lengthAdjust="spacingAndGlyphs">Relative Strength (87 (29,390),0)</text>
<text x="258" y="15" font-family="Liberation Sans, sans-serif" font-size="11.5" fill="#000" stroke="#000" stroke-width="0.08" text-anchor="start" font-weight="normal" textLength="173" lengthAdjust="spacingAndGlyphs">Balance Weighted (50,880),0)</text>
<text x="22.5" y="306" font-family="Liberation Sans, sans-serif" font-size="12" fill="#ff00ff" stroke="#ff00ff" stroke-width="0.08" text-anchor="start" font-weight="normal" >1,97€</text>
<text x="52.8" y="379.2" font-family="Liberation Sans, sans-serif" font-size="11.8" fill="#0000ff" text-anchor="start" font-weight="bold" textLength="28" lengthAdjust="spacingAndGlyphs">1,90€</text>
<text x="230.5" y="353.4" font-family="Liberation Sans, sans-serif" font-size="11.8" fill="#0000ff" text-anchor="start" font-weight="bold" textLength="28" lengthAdjust="spacingAndGlyphs">1,90€</text>
</svg></body></html>
